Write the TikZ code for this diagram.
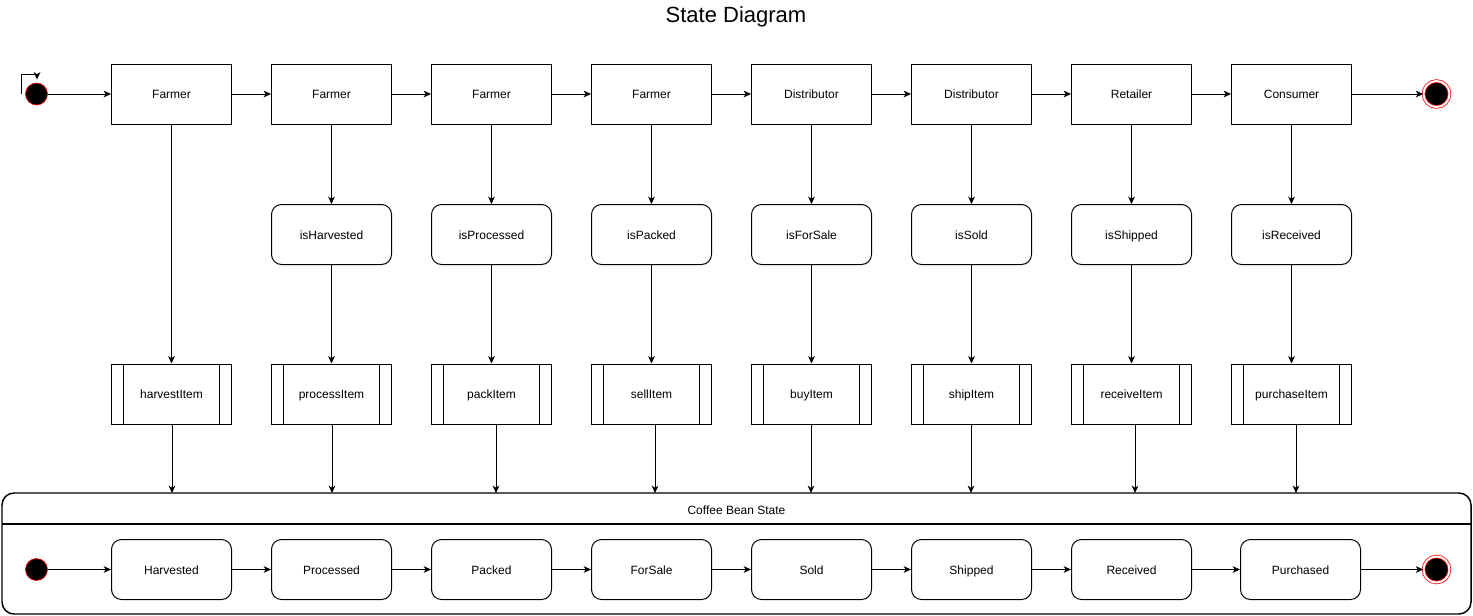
\documentclass[tikz,border=0pt]{standalone}
\usepackage{fontspec}
\setmainfont{Liberation Sans}
\usetikzlibrary{arrows.meta,calc}
\begin{document}
\begin{tikzpicture}[x=0.75pt,y=-0.75pt,
  every node/.style={font=\fontsize{9}{11}\selectfont},
  label text/.style={text height=8pt, text depth=1.1pt},
  base/.style={draw, line width=0.75pt, minimum width=90pt, minimum height=45pt, inner sep=0pt, label text},
  actor/.style={base},
  cond/.style={base, rounded corners=7.5pt},
  proc/.style={base, path picture={
      \draw[line width=0.75pt] ([xshift=9pt]path picture bounding box.north west) -- ([xshift=9pt]path picture bounding box.south west);
      \draw[line width=0.75pt] ([xshift=-9pt]path picture bounding box.north east) -- ([xshift=-9pt]path picture bounding box.south east);}},
  initial/.style={circle, fill=black, draw=red, line width=0.5pt, minimum size=16.5pt, inner sep=0pt},
  final/.style={circle, fill=black, draw=red, double=white, line width=0.55pt, double distance=1.5pt, minimum size=19.5pt, inner sep=0pt},
  arr/.style={-{Stealth[length=5.5pt,width=5pt,inset=1.5pt]}, line width=0.75pt},
  container/.style={draw, line width=1.1pt, rounded corners=9pt, minimum width=1101.75pt, minimum height=90.75pt, inner sep=0pt},
]
\useasboundingbox (0,0) rectangle (1473,615);

\node[font=\fontsize{16.5}{20}\selectfont, anchor=base] (title) at (736,22.5) {State Diagram};

% top row
\node[initial] (s1) at (36.5,94) {};
\foreach \i/\t in {1/Farmer,2/Farmer,3/Farmer,4/Farmer,5/Distributor,6/Distributor,7/Retailer,8/Consumer}
  \node[actor] (f\i) at ({11.5+160*\i},94) {\t};
\node[final] (e1) at (1436.5,94) {};

% small loop arrow near the start
\coordinate (lpA) at (21,94);
\coordinate (lpB) at (37,79.5);
\draw[arr] (lpA) |- ($(lpB)+(0,-5.5)$) -- (lpB);

% middle row
\foreach \i/\t in {2/isHarvested,3/isProcessed,4/isPacked,5/isForSale,6/isSold,7/isShipped,8/isReceived}
  \node[cond] (m\i) at ({11.5+160*\i},234.5) {\t};

% process row
\foreach \i/\t in {1/harvestItem,2/processItem,3/packItem,4/sellItem,5/buyItem,6/shipItem,7/receiveItem,8/purchaseItem}
  \node[proc] (p\i) at ({11.5+160*\i},394) {\t};

% container
\node[container] (cont) at (736.5,553.5) {};
\coordinate (sepL) at (2,524);
\coordinate (sepR) at (1471,524);
\draw[line width=1.1pt] (sepL) -- (sepR);
\node[label text] (ctitle) at (736.5,509.5) {Coffee Bean State};

% bottom row
\node[initial] (s2) at (36.5,569.5) {};
\foreach \i/\t in {1/Harvested,2/Processed,3/Packed,4/ForSale,5/Sold,6/Shipped,7/Received}
  \node[cond] (b\i) at ({11.5+160*\i},569.5) {\t};
\node[cond] (b8) at (1300.5,569.5) {Purchased};
\node[final] (e2) at (1436.5,569.5) {};

% top row arrows
\draw[arr] (s1) -- (f1);
\foreach \i [evaluate=\i as \j using int(\i+1)] in {1,...,7}
  \draw[arr] (f\i) -- (f\j);
\draw[arr] (f8) -- (e1);

% vertical arrows
\draw[arr] (f1) -- (p1);
\foreach \i in {2,...,8}{
  \draw[arr] (f\i) -- (m\i);
  \draw[arr] (m\i) -- (p\i);
}

% process to container
\foreach \i/\x in {1/172,2/332,3/496,4/655,5/811,6/971,7/1135,8/1296}{
  \coordinate (t\i) at (\x,493);
  \draw[arr] (p\i.south -| t\i) -- (t\i);
}

% bottom row arrows
\draw[arr] (s2) -- (b1);
\foreach \i [evaluate=\i as \j using int(\i+1)] in {1,...,7}
  \draw[arr] (b\i) -- (b\j);
\draw[arr] (b8) -- (e2);
\end{tikzpicture}
\end{document}
